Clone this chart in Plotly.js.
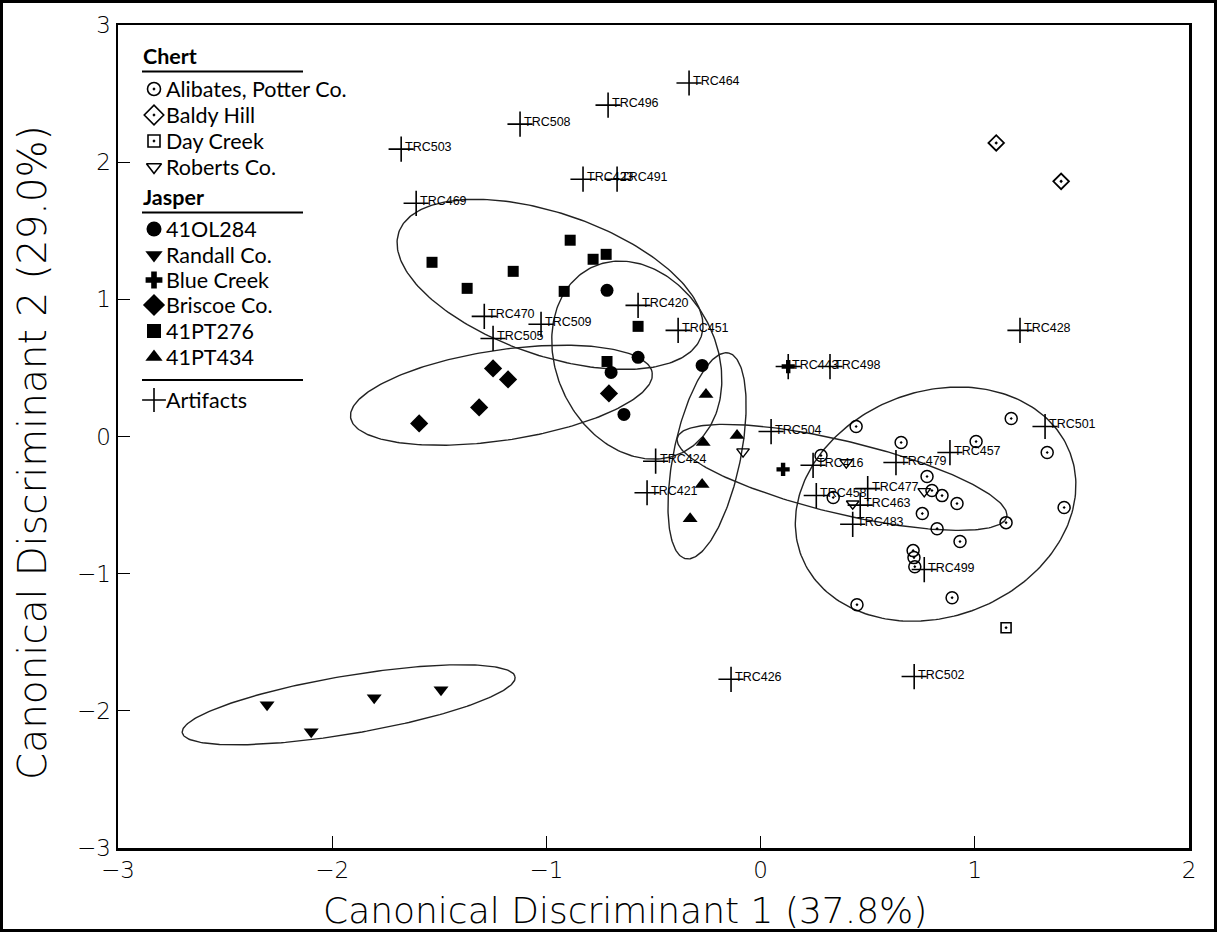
<!DOCTYPE html>
<html>
<head>
<meta charset="utf-8">
<script src="https://cdn.plot.ly/plotly-3.0.1.min.js"></script>
<style>html,body{margin:0;padding:0;background:#fff;}#chart{width:1217px;height:932px;}</style>
</head>
<body>
<div id="chart"></div>
<script>
// ---------- Data ----------
// Chert sources
const alibatesX = [0.446, 1.170, 0.656, 1.006, 1.338, 0.282, 0.777, 0.800, 0.847, 0.917, 0.339, 0.755, 0.824, 1.146, 1.417, 0.931, 0.712, 0.716, 0.720, 0.894, 0.450];
const alibatesY = [0.073, 0.131, -0.044, -0.037, -0.117, -0.139, -0.292, -0.394, -0.431, -0.489, -0.445, -0.562, -0.672, -0.628, -0.518, -0.766, -0.832, -0.883, -0.949, -1.175, -1.226];
const baldyX = [1.100, 1.403];
const baldyY = [2.140, 1.860];
const dayCreekX = [1.146];
const dayCreekY = [-1.394];
const robertsX = [-0.082, 0.400, 0.430, 0.764];
const robertsY = [-0.110, -0.190, -0.490, -0.400];
// Jasper sources
const ol284X = [-0.717, -0.572, -0.698, -0.638, -0.273];
const ol284Y = [1.066, 0.577, 0.467, 0.161, 0.518];
const randallX = [-2.304, -2.098, -1.804, -1.492];
const randallY = [-1.956, -2.153, -1.905, -1.847];
const blueCreekX = [0.129, 0.105];
const blueCreekY = [0.510, -0.240];
const briscoeX = [-1.249, -1.179, -0.708, -1.314, -1.594];
const briscoeY = [0.496, 0.416, 0.314, 0.212, 0.095];
const pt276X = [-0.889, -1.534, -0.782, -0.721, -1.155, -1.370, -0.917, -0.572, -0.717];
const pt276Y = [1.431, 1.270, 1.292, 1.328, 1.204, 1.080, 1.058, 0.803, 0.547];
const pt434X = [-0.255, -0.268, -0.110, -0.273, -0.329];
const pt434Y = [0.307, -0.044, 0.007, -0.350, -0.600];
// Artifacts
const artifactLabels = ["TRC464","TRC496","TRC508","TRC503","TRC423","TRC491","TRC469","TRC470","TRC509","TRC505","TRC420","TRC451","TRC443","TRC498","TRC428","TRC504","TRC501","TRC424","TRC421","TRC416","TRC479","TRC457","TRC458","TRC477","TRC463","TRC483","TRC499","TRC426","TRC502"];
const artifactX = [-0.334, -0.712, -1.123, -1.678, -0.829, -0.670, -1.608, -1.290, -1.025, -1.249, -0.572, -0.385, 0.129, 0.324, 1.211, 0.049, 1.328, -0.490, -0.530, 0.245, 0.632, 0.884, 0.260, 0.500, 0.465, 0.430, 0.764, -0.138, 0.717];
const artifactY = [2.577, 2.416, 2.277, 2.095, 1.876, 1.876, 1.700, 0.876, 0.818, 0.715, 0.956, 0.774, 0.510, 0.510, 0.774, 0.036, 0.073, -0.180, -0.410, -0.210, -0.190, -0.117, -0.430, -0.380, -0.500, -0.640, -0.970, -1.770, -1.750];
// Group ellipses (centre and conjugate semi-axis vectors, data units)
const ellipseGroups = ["41PT276", "41OL284", "Briscoe Co.", "41PT434", "Roberts Co.", "Alibates, Potter Co.", "Randall Co."];
const ellipseCX = [-0.983, -0.578, -1.210, -0.250, 0.380, 0.817, -1.923];
const ellipseCY = [1.109, 0.557, 0.301, -0.141, -0.298, -0.493, -1.956];
const ellipseUX = [0.706, 0.213, 0.704, 0.0994, 0.769, 0.628, 0.777];
const ellipseUY = [-0.380, -0.674, 0.164, 0.750, -0.288, 0.373, 0.204];
const ellipseVX = [-0.108, -0.335, 0.031, 0.153, -0.0396, 0.186, 0.0225];
const ellipseVY = [-0.490, -0.259, -0.326, -0.0494, -0.258, -0.768, -0.209];
// Axis titles
const xTitle = 'Canonical Discriminant 1 (37.8%)';
const yTitle = 'Canonical Discriminant 2 (29.0%)';

// ---------- Traces ----------
const traces = [];
for (let i = 0; i < ellipseGroups.length; i++) {
  const ex = [], ey = [];
  const N = 240;
  for (let k = 0; k <= N; k++) {
    const t = 2 * Math.PI * k / N;
    ex.push(ellipseCX[i] + ellipseUX[i] * Math.cos(t) + ellipseVX[i] * Math.sin(t));
    ey.push(ellipseCY[i] + ellipseUY[i] * Math.cos(t) + ellipseVY[i] * Math.sin(t));
  }
  traces.push({x: ex, y: ey, mode: 'lines', line: {color: '#222', width: 1.4}, hoverinfo: 'skip', showlegend: false, name: ellipseGroups[i]});
}
function pts(x, y, symbol, size, name, lw) {
  return {x: x, y: y, mode: 'markers', name: name, showlegend: false,
    marker: {symbol: symbol, size: size, color: '#000', line: {color: '#000', width: lw || 0}}};
}
traces.push(pts(artifactX, artifactY, 'cross-thin-open', 18, 'Artifacts', 1.6));
traces.push(pts(alibatesX, alibatesY, 'circle-open-dot', 12, 'Alibates, Potter Co.', 1.5));
traces.push(pts(baldyX, baldyY, 'diamond-open-dot', 12, 'Baldy Hill', 1.8));
traces.push(pts(dayCreekX, dayCreekY, 'square-open-dot', 10, 'Day Creek', 1.6));
traces.push(pts(robertsX, robertsY, 'triangle-down-open', 11, 'Roberts Co.', 1.4));
traces.push(pts(ol284X, ol284Y, 'circle', 13, '41OL284'));
traces.push(pts(randallX, randallY, 'triangle-down', 13, 'Randall Co.'));
traces.push(pts(blueCreekX, blueCreekY, 'cross', 11, 'Blue Creek'));
traces.push(pts(briscoeX, briscoeY, 'diamond', 14, 'Briscoe Co.'));
traces.push(pts(pt276X, pt276Y, 'square', 11, '41PT276'));
traces.push(pts(pt434X, pt434Y, 'triangle-up', 13, '41PT434'));

// ---------- Legend (drawn on a hidden pixel-space overlay axis) ----------
const legendRows = [
  {label: 'Alibates, Potter Co.', symbol: 'circle-open-dot', size: 13, lw: 1.6},
  {label: 'Baldy Hill', symbol: 'diamond-open-dot', size: 15, lw: 1.6},
  {label: 'Day Creek', symbol: 'square-open-dot', size: 12, lw: 1.6},
  {label: 'Roberts Co.', symbol: 'triangle-down-open', size: 13, lw: 1.6},
  {label: '41OL284', symbol: 'circle', size: 15, lw: 0},
  {label: 'Randall Co.', symbol: 'triangle-down', size: 15, lw: 0},
  {label: 'Blue Creek', symbol: 'cross', size: 14, lw: 0},
  {label: 'Briscoe Co.', symbol: 'diamond', size: 17, lw: 0},
  {label: '41PT276', symbol: 'square', size: 14, lw: 0},
  {label: '41PT434', symbol: 'triangle-up', size: 15, lw: 0},
  {label: 'Artifacts', symbol: 'cross-thin-open', size: 17, lw: 1.6}
];
const legendRowY = [89, 115, 141, 167, 229, 255, 280, 305, 331, 357, 400];
const legendMarkX = 154;
const legendFont = {family: 'Lato, Open Sans, sans-serif', size: 21.5, color: '#000'};
const annotations = [];
legendRows.forEach((r, i) => {
  traces.push({x: [legendMarkX], y: [legendRowY[i]], xaxis: 'x2', yaxis: 'y2', mode: 'markers', showlegend: false, hoverinfo: 'skip',
    marker: {symbol: r.symbol, size: r.size, color: '#000', line: {color: '#000', width: r.lw}}});
  annotations.push({x: 164, y: legendRowY[i], xref: 'x2', yref: 'y2', text: r.label, showarrow: false, xanchor: 'left', yanchor: 'middle',
    font: legendFont});
});
annotations.push({x: 141, y: 56, xref: 'x2', yref: 'y2', text: '<b>Chert</b>', showarrow: false, xanchor: 'left', yanchor: 'middle', font: legendFont});
annotations.push({x: 141, y: 197, xref: 'x2', yref: 'y2', text: '<b>Jasper</b>', showarrow: false, xanchor: 'left', yanchor: 'middle', font: legendFont});
// artifact labels
artifactLabels.forEach((lab, i) => {
  annotations.push({x: artifactX[i], y: artifactY[i], xref: 'x', yref: 'y', text: lab, showarrow: false,
    xanchor: 'left', yanchor: 'middle', xshift: 2, yshift: 2,
    font: {family: 'Liberation Sans, Arial, sans-serif', size: 12.5, color: '#000'}});
});
// axis titles (paper coordinates; plot area is 1071 x 823 px starting at 118,25)
annotations.push({x: (625 - 118) / 1071, y: (848 - 910) / 823, xref: 'paper', yref: 'paper', text: xTitle, showarrow: false,
  xanchor: 'center', yanchor: 'middle', font: {family: 'DejaVu Sans, sans-serif', size: 36, color: '#000', weight: 300}});
annotations.push({x: (32 - 118) / 1071, y: (848 - 453) / 823, xref: 'paper', yref: 'paper', text: yTitle, showarrow: false,
  xanchor: 'center', yanchor: 'middle', textangle: -90, font: {family: 'DejaVu Sans, sans-serif', size: 39, color: '#000', weight: 300}});

const shapes = [
  {type: 'line', xref: 'x2', yref: 'y2', x0: 142, x1: 303, y0: 71.5, y1: 71.5, line: {color: '#000', width: 2}},
  {type: 'line', xref: 'x2', yref: 'y2', x0: 142, x1: 303, y0: 212.5, y1: 212.5, line: {color: '#000', width: 2}},
  {type: 'line', xref: 'x2', yref: 'y2', x0: 142, x1: 303, y0: 380, y1: 380, line: {color: '#000', width: 2}},
  // outer frame of the figure
  {type: 'rect', xref: 'paper', yref: 'paper', x0: -116.5/1071, x1: 1 + 26.5/1071, y0: -82.5/823, y1: 1 + 23.5/823,
    line: {color: '#000', width: 3}, fillcolor: 'rgba(0,0,0,0)'}
];

const tickFont = {family: 'DejaVu Sans, sans-serif', size: 23, color: '#000', weight: 300};

const layout = {
  width: 1217, height: 932,
  margin: {l: 118, r: 28, t: 25, b: 84, pad: 0},
  paper_bgcolor: '#fff', plot_bgcolor: '#fff',
  showlegend: false,
  xaxis: {range: [-3, 2], tickvals: [-3, -2, -1, 0, 1, 2], ticks: 'inside', ticklen: 12, tickwidth: 1.3, tickcolor: '#000',
    showgrid: false, zeroline: false, showline: true, linecolor: '#000', linewidth: 2.5, mirror: true, tickfont: tickFont},
  yaxis: {range: [-3, 3], tickvals: [-3, -2, -1, 0, 1, 2, 3], ticks: 'inside', ticklen: 12, tickwidth: 1.3, tickcolor: '#000',
    showgrid: false, zeroline: false, showline: true, linecolor: '#000', linewidth: 2.5, mirror: true, tickfont: tickFont},
  xaxis2: {overlaying: 'x', anchor: 'y2', range: [118, 1189], visible: false, showgrid: false, zeroline: false},
  yaxis2: {overlaying: 'y', anchor: 'x2', range: [848, 25], visible: false, showgrid: false, zeroline: false},
  annotations: annotations,
  shapes: shapes
};

Plotly.newPlot('chart', traces, layout, {displayModeBar: false, staticPlot: true});
</script>
</body>
</html>
